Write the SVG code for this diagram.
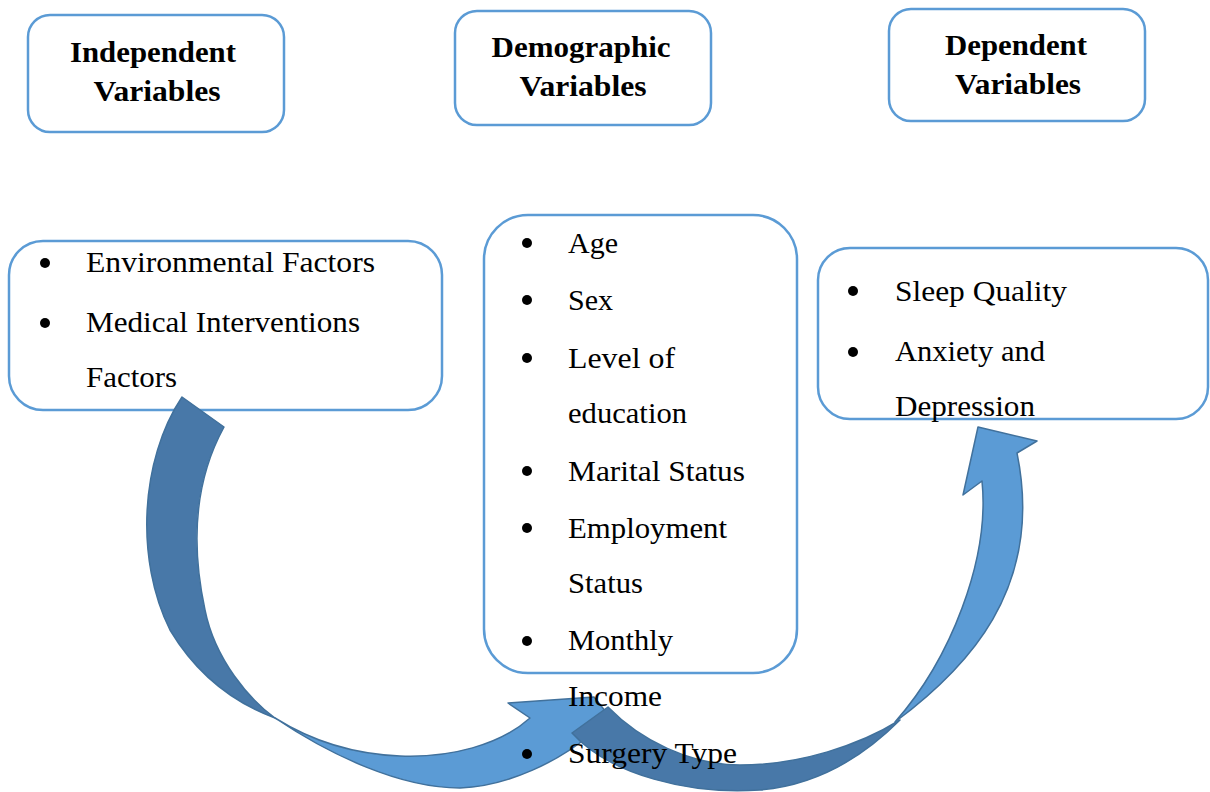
<svg xmlns="http://www.w3.org/2000/svg" width="1210" height="792" viewBox="0 0 1210 792">
<style>
.box{fill:#fff;stroke:#5B9BD5;stroke-width:2.5}
.hd{font-family:"Liberation Serif","Times New Roman",serif;font-weight:bold;font-size:30px;fill:#000;text-anchor:middle}
.tx{font-family:"Liberation Serif","Times New Roman",serif;font-size:30px;fill:#000}
.dot{fill:#000}
.dark{fill:#4878A8;stroke:#41719C;stroke-width:1.5;stroke-linejoin:round}
.light{fill:#5B9BD5;stroke:#41719C;stroke-width:1.5;stroke-linejoin:round}
</style>
<rect width="1210" height="792" fill="#fff"/>
<g id="hdr-independent">
<rect class="box" x="28" y="15" width="256" height="117" rx="22"/>
<text class="hd" x="153" y="62" textLength="166" lengthAdjust="spacingAndGlyphs">Independent</text>
<text class="hd" x="157" y="101" textLength="127" lengthAdjust="spacingAndGlyphs">Variables</text>
</g>
<g id="hdr-demographic">
<rect class="box" x="455" y="11" width="256" height="114" rx="22"/>
<text class="hd" x="581" y="57" textLength="179" lengthAdjust="spacingAndGlyphs">Demographic</text>
<text class="hd" x="583" y="96" textLength="127" lengthAdjust="spacingAndGlyphs">Variables</text>
</g>
<g id="hdr-dependent">
<rect class="box" x="889" y="9" width="256" height="112" rx="22"/>
<text class="hd" x="1016" y="55" textLength="142" lengthAdjust="spacingAndGlyphs">Dependent</text>
<text class="hd" x="1018" y="94" textLength="126" lengthAdjust="spacingAndGlyphs">Variables</text>
</g>
<g id="independent">
<rect class="box" x="9" y="241" width="433" height="169" rx="34"/>
</g>
<g id="demographic">
<rect class="box" x="484" y="215" width="313" height="458" rx="44"/>
</g>
<g id="dependent">
<rect class="box" x="818" y="248" width="390" height="171" rx="32"/>
</g>
<g id="connectors">
<path class="dark" d="M182,397 L224,427 C195,480 190,540 205,610 C215,660 250,700 275,718 C240,705 200,680 170,630 C135,560 140,460 182,397 Z"/>
<path class="light" d="M275,718 C330,755 400,788 460,788 C510,786 560,760 590,735 L606,712 L594,697 L508,703 L530,718 C500,745 450,758 400,756 C350,754 310,740 275,718 Z"/>
<path class="dark" d="M572,733 L608,707 C640,740 690,765 740,765 C800,765 860,745 900,720 C865,755 820,785 760,790 C690,795 610,775 572,733 Z"/>
<path class="light" d="M895,722 C965,670 1045,590 1017,453 L1037,441 L978,427 L963,495 L982,481 C990,560 950,660 895,722 Z"/>
</g>
<g id="independent-text">
<circle class="dot" cx="45" cy="263" r="5"/>
<circle class="dot" cx="45" cy="323" r="5"/>
<text class="tx" x="86" y="272" textLength="289" lengthAdjust="spacingAndGlyphs">Environmental Factors</text>
<text class="tx" x="86" y="332" textLength="274" lengthAdjust="spacingAndGlyphs">Medical Interventions</text>
<text class="tx" x="86" y="387" textLength="91" lengthAdjust="spacingAndGlyphs">Factors</text>
</g>
<g id="demographic-text">
<circle class="dot" cx="527" cy="243" r="5"/>
<circle class="dot" cx="527" cy="300" r="5"/>
<circle class="dot" cx="527" cy="358" r="5"/>
<circle class="dot" cx="527" cy="471" r="5"/>
<circle class="dot" cx="527" cy="528" r="5"/>
<circle class="dot" cx="527" cy="641" r="5"/>
<circle class="dot" cx="527" cy="754" r="5"/>
<text class="tx" x="568" y="253" textLength="50" lengthAdjust="spacingAndGlyphs">Age</text>
<text class="tx" x="568" y="310" textLength="45" lengthAdjust="spacingAndGlyphs">Sex</text>
<text class="tx" x="568" y="368" textLength="107" lengthAdjust="spacingAndGlyphs">Level of</text>
<text class="tx" x="568" y="423" textLength="119" lengthAdjust="spacingAndGlyphs">education</text>
<text class="tx" x="568" y="481" textLength="177" lengthAdjust="spacingAndGlyphs">Marital Status</text>
<text class="tx" x="568" y="538" textLength="159" lengthAdjust="spacingAndGlyphs">Employment</text>
<text class="tx" x="568" y="593" textLength="75" lengthAdjust="spacingAndGlyphs">Status</text>
<text class="tx" x="568" y="650" textLength="105" lengthAdjust="spacingAndGlyphs">Monthly</text>
<text class="tx" x="568" y="706" textLength="94" lengthAdjust="spacingAndGlyphs">Income</text>
<text class="tx" x="568" y="763" textLength="169" lengthAdjust="spacingAndGlyphs">Surgery Type</text>
</g>
<g id="dependent-text">
<circle class="dot" cx="853" cy="291" r="5"/>
<circle class="dot" cx="853" cy="352" r="5"/>
<text class="tx" x="895" y="301" textLength="172" lengthAdjust="spacingAndGlyphs">Sleep Quality</text>
<text class="tx" x="895" y="361" textLength="150" lengthAdjust="spacingAndGlyphs">Anxiety and</text>
<text class="tx" x="895" y="416" textLength="140" lengthAdjust="spacingAndGlyphs">Depression</text>
</g>
</svg>
